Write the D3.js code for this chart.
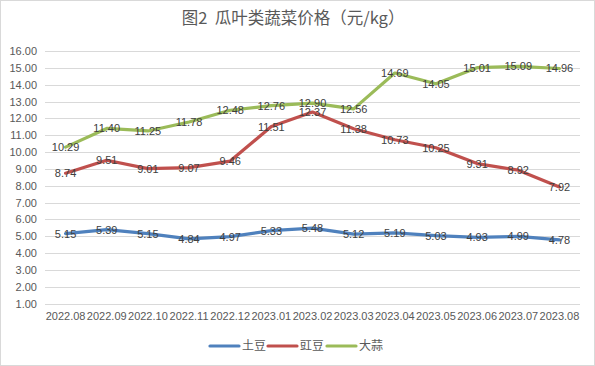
<!DOCTYPE html>
<html><head><meta charset="utf-8">
<script src="https://cdn.jsdelivr.net/npm/d3@7"></script>
<style>body{margin:0;background:#fff}svg{display:block}</style>
</head><body>
<svg id="c" width="595" height="366"></svg>
<script>
const categories = ["2022.08","2022.09","2022.10","2022.11","2022.12","2023.01","2023.02","2023.03","2023.04","2023.05","2023.06","2023.07","2023.08"];
const potato = [5.15,5.39,5.15,4.84,4.97,5.33,5.48,5.12,5.19,5.03,4.93,4.99,4.78];
const cowpea = [8.74,9.51,9.01,9.07,9.46,11.51,12.37,11.38,10.73,10.25,9.31,8.92,7.92];
const garlic = [10.29,11.40,11.25,11.78,12.48,12.76,12.90,12.56,14.69,14.05,15.01,15.09,14.96];
const seriesNames = ["土豆","豇豆","大蒜"];
const yTicks = [1,2,3,4,5,6,7,8,9,10,11,12,13,14,15,16];
const colors = ["#4f81bd","#c0504d","#9bbb59"];
const series = [potato, cowpea, garlic];

const svg = d3.select("#c");
svg.append("rect").attr("x",0.5).attr("y",0.5).attr("width",594).attr("height",365)
  .attr("fill","#fff").attr("stroke","#d9d9d9");

svg.append("text").attr("x",293).attr("y",24).attr("text-anchor","middle")
  .style("white-space","pre")
  .attr("font-family","'Noto Sans CJK SC', sans-serif").attr("font-size",16.5)
  .attr("fill","#595959").text("图2  瓜叶类蔬菜价格（元/kg）");

const x = d3.scaleBand().domain(categories).range([45,580]);
const y = d3.scaleLinear().domain([1,16]).range([303.5,51]);

const grid = svg.append("g");
grid.selectAll("line").data(yTicks).join("line")
  .attr("x1",45).attr("x2",580).attr("y1",d=>Math.round(y(d))+0.5).attr("y2",d=>Math.round(y(d))+0.5)
  .attr("stroke","#d9d9d9").attr("stroke-width",1);

const yAxis = svg.append("g").attr("transform","translate(45,0)")
  .call(d3.axisLeft(y).tickValues(yTicks).tickFormat(d3.format(".2f")).tickSize(0).tickPadding(8));
yAxis.select(".domain").remove();
yAxis.selectAll("text").attr("font-family","'Liberation Sans', sans-serif").attr("font-size",11).attr("fill","#595959");

const xAxis = svg.append("g").attr("transform","translate(0,303.5)")
  .call(d3.axisBottom(x).tickSize(0).tickPadding(9));
xAxis.select(".domain").remove();
xAxis.selectAll("text").attr("font-family","'Liberation Sans', sans-serif").attr("font-size",11).attr("fill","#595959");

const cx = d => x(d) + x.bandwidth()/2;
const line = d3.line().x((d,i)=>cx(categories[i])).y(d=>y(d));

series.forEach((s,k)=>{
  svg.append("path").datum(s).attr("d",line).attr("fill","none")
    .attr("stroke",colors[k]).attr("stroke-width",3.2)
    .attr("stroke-linejoin","round").attr("stroke-linecap","round");
});
series.forEach((s,k)=>{
  svg.append("g").selectAll("text").data(s).join("text")
    .attr("x",(d,i)=>cx(categories[i])).attr("y",d=>y(d)).attr("dy","0.36em")
    .attr("text-anchor","middle").attr("font-family","'Liberation Sans', sans-serif")
    .attr("font-size",11).attr("fill","#404040").text(d=>d.toFixed(2));
});

// legend
const lg = svg.append("g");
const legX = [210, 268, 327];
seriesNames.forEach((n,k)=>{
  lg.append("line").attr("x1",legX[k]).attr("x2",legX[k]+29).attr("y1",346).attr("y2",346)
    .attr("stroke",colors[k]).attr("stroke-width",3.2).attr("stroke-linecap","round");
  lg.append("text").attr("x",legX[k]+32).attr("y",346).attr("dy","0.36em")
    .attr("font-family","'Noto Sans CJK SC', sans-serif").attr("font-size",12)
    .attr("fill","#595959").text(n);
});
</script>
</body></html>
